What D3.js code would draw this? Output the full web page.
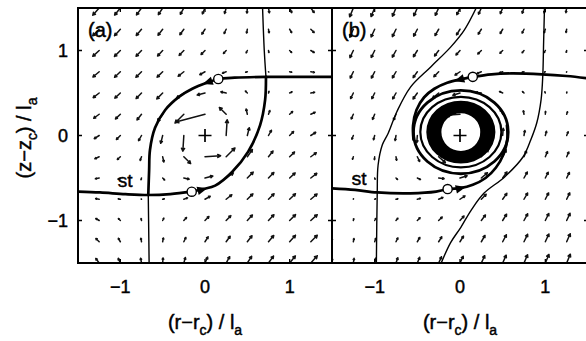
<!DOCTYPE html>
<html>
<head>
<meta charset="utf-8">
<script src="https://cdn.jsdelivr.net/npm/d3@7"></script>
<style>
  body { margin: 0; background: #fff; }
  svg { display: block; }
  text { font-family: "Liberation Sans", Arial, Helvetica, sans-serif; fill: #000; stroke: #000; stroke-width: 0.45px; }
</style>
</head>
<body>
<svg id="chart" width="586" height="341"></svg>
<script>
// ---- grid of the velocity field (tails of the quiver arrows) ----
const gridCols = [-1.5, -1.25, -1, -0.75, -0.5, -0.25, 0, 0.25, 0.5, 0.75, 1, 1.25, 1.5];
const gridRows = [1.5, 1.25, 1, 0.75, 0.5, 0.25, 0, -0.25, -0.5, -0.75, -1, -1.25, -1.5];

// panel (a): velocity components, one row per gridRows entry
const fieldA_u = [
  [-1.83,-1.64,-1.46,-1.28,-1.10,-0.90,-0.67,-0.40,-0.10,0.22,0.54,0.86,1.17],
  [-1.83,-1.65,-1.49,-1.34,-1.19,-1.02,-0.80,-0.52,-0.19,0.16,0.51,0.85,1.17],
  [-1.81,-1.64,-1.50,-1.39,-1.30,-1.19,-1.00,-0.69,-0.30,0.11,0.50,0.86,1.19],
  [-1.77,-1.60,-1.48,-1.42,-1.42,-1.45,-1.33,-0.95,-0.42,0.08,0.52,0.90,1.23],
  [-1.70,-1.53,-1.40,-1.37,-1.50,-1.85,-2.00,-1.35,-0.50,0.13,0.60,0.97,1.30],
  [-1.61,-1.40,-1.24,-1.15,-1.30,-2.25,-7.50,-1.75,-0.30,0.35,0.76,1.10,1.39],
  [-1.50,-1.25,-1.00,-0.75,-0.50,-0.25,0.00,0.25,0.50,0.75,1.00,1.25,1.50],
  [-1.39,-1.10,-0.76,-0.35,0.30,1.75,4.00,2.25,1.30,1.15,1.24,1.40,1.61],
  [-1.30,-0.97,-0.60,-0.13,0.50,1.35,2.00,1.85,1.50,1.37,1.40,1.53,1.70],
  [-1.23,-0.90,-0.52,-0.08,0.42,0.95,1.33,1.45,1.42,1.42,1.48,1.60,1.77],
  [-1.19,-0.86,-0.50,-0.11,0.30,0.69,1.00,1.19,1.30,1.39,1.50,1.64,1.81],
  [-1.17,-0.85,-0.51,-0.16,0.19,0.52,0.80,1.02,1.19,1.34,1.49,1.65,1.83],
  [-1.17,-0.86,-0.54,-0.22,0.10,0.40,0.67,0.90,1.10,1.28,1.46,1.64,1.83]
];
const fieldA_v = [
  [-1.83,-1.83,-1.81,-1.77,-1.70,-1.61,-1.50,-1.39,-1.30,-1.23,-1.19,-1.17,-1.17],
  [-1.64,-1.65,-1.64,-1.60,-1.53,-1.40,-1.25,-1.10,-0.97,-0.90,-0.86,-0.85,-0.86],
  [-1.46,-1.49,-1.50,-1.48,-1.40,-1.24,-1.00,-0.76,-0.60,-0.52,-0.50,-0.51,-0.54],
  [-1.28,-1.34,-1.39,-1.42,-1.37,-1.15,-0.75,-0.35,-0.13,-0.08,-0.11,-0.16,-0.22],
  [-1.10,-1.19,-1.30,-1.42,-1.50,-1.30,-0.50,0.30,0.50,0.42,0.30,0.19,0.10],
  [-0.90,-1.02,-1.19,-1.45,-1.85,-2.25,-2.00,1.75,1.35,0.95,0.69,0.52,0.40],
  [-0.67,-0.80,-1.00,-1.33,-2.00,-4.00,0.00,4.00,2.00,1.33,1.00,0.80,0.67],
  [-0.40,-0.52,-0.69,-0.95,-1.35,-1.75,0.25,2.25,1.85,1.45,1.19,1.02,0.90],
  [-0.10,-0.19,-0.30,-0.42,-0.50,-0.30,0.50,1.30,1.50,1.42,1.30,1.19,1.10],
  [0.22,0.16,0.11,0.08,0.13,0.35,0.75,1.15,1.37,1.42,1.39,1.34,1.28],
  [0.54,0.51,0.50,0.52,0.60,0.76,1.00,1.24,1.40,1.48,1.50,1.49,1.46],
  [0.86,0.85,0.86,0.90,0.97,1.10,1.25,1.40,1.53,1.60,1.64,1.65,1.64],
  [1.17,1.17,1.19,1.23,1.30,1.39,1.50,1.61,1.70,1.77,1.81,1.83,1.83]
];

// panel (b): velocity components
const fieldB_u = [
  [-1.10,-1.07,-1.06,-1.04,-1.03,-0.99,-0.93,-0.82,-0.69,-0.53,-0.37,-0.22,-0.07],
  [-1.05,-1.04,-1.04,-1.06,-1.07,-1.07,-1.01,-0.90,-0.73,-0.55,-0.36,-0.19,-0.03],
  [-0.99,-0.99,-1.01,-1.07,-1.14,-1.20,-1.17,-1.03,-0.80,-0.56,-0.33,-0.13,0.03],
  [-0.91,-0.90,-0.95,-1.05,-1.22,-1.41,-1.46,-1.24,-0.88,-0.54,-0.27,-0.05,0.11],
  [-0.80,-0.79,-0.83,-0.96,-1.26,-1.77,-2.09,-1.60,-0.92,-0.45,-0.14,0.06,0.23],
  [-0.66,-0.62,-0.62,-0.70,-1.01,-2.13,-4.04,-1.96,-0.67,-0.19,0.06,0.24,0.36],
  [-0.51,-0.43,-0.34,-0.26,-0.17,-0.09,0.00,0.09,0.17,0.26,0.34,0.43,0.51],
  [-0.36,-0.24,-0.06,0.19,0.67,1.96,4.04,2.13,1.01,0.70,0.62,0.62,0.66],
  [-0.23,-0.06,0.14,0.45,0.92,1.60,2.09,1.77,1.26,0.96,0.83,0.79,0.80],
  [-0.11,0.05,0.27,0.54,0.88,1.24,1.46,1.41,1.22,1.05,0.95,0.90,0.91],
  [-0.03,0.13,0.33,0.56,0.80,1.03,1.17,1.20,1.14,1.07,1.01,0.99,0.99],
  [0.03,0.19,0.36,0.55,0.73,0.90,1.01,1.07,1.07,1.06,1.04,1.04,1.05],
  [0.07,0.22,0.37,0.53,0.69,0.82,0.93,0.99,1.03,1.04,1.06,1.07,1.10]
];
const fieldB_v = [
  [-2.66,-2.60,-2.52,-2.42,-2.30,-2.15,-1.98,-1.81,-1.67,-1.54,-1.44,-1.36,-1.31],
  [-2.39,-2.34,-2.27,-2.17,-2.05,-1.86,-1.65,-1.44,-1.26,-1.13,-1.03,-0.96,-0.92],
  [-2.13,-2.10,-2.05,-1.97,-1.84,-1.62,-1.32,-1.02,-0.81,-0.67,-0.59,-0.54,-0.52],
  [-1.87,-1.87,-1.86,-1.83,-1.73,-1.45,-0.99,-0.53,-0.26,-0.15,-0.12,-0.11,-0.12],
  [-1.61,-1.64,-1.69,-1.75,-1.78,-1.52,-0.66,0.20,0.46,0.43,0.37,0.32,0.29],
  [-1.33,-1.39,-1.50,-1.70,-2.05,-2.39,-0.33,1.73,1.39,1.04,0.84,0.73,0.67],
  [-1.02,-1.09,-1.23,-1.50,-2.12,-4.06,0.00,4.06,2.12,1.50,1.23,1.09,1.02],
  [-0.67,-0.73,-0.84,-1.04,-1.39,-1.73,0.33,2.39,2.05,1.70,1.50,1.39,1.33],
  [-0.29,-0.32,-0.37,-0.43,-0.46,-0.20,0.66,1.52,1.78,1.75,1.69,1.64,1.61],
  [0.12,0.11,0.12,0.15,0.26,0.53,0.99,1.45,1.73,1.83,1.86,1.87,1.87],
  [0.52,0.54,0.59,0.67,0.81,1.02,1.32,1.62,1.84,1.97,2.05,2.10,2.13],
  [0.92,0.96,1.03,1.13,1.26,1.44,1.65,1.86,2.05,2.17,2.27,2.34,2.39],
  [1.31,1.36,1.44,1.54,1.67,1.81,1.98,2.15,2.30,2.42,2.52,2.60,2.66]
];

// ---- separatrices and trajectories, in units of l_a ----
const thickA = [
  [[0.157,0.665],[0.35,0.68],[0.72,0.69],[1.12,0.69],[1.5,0.69]],
  [[0.157,0.665],[0.02,0.62],[-0.15,0.55],[-0.30,0.46],[-0.47,0.30],[-0.59,0.09],[-0.65,-0.17],[-0.66,-0.41],[-0.67,-0.70]],
  [[-1.5,-0.66],[-1.24,-0.67],[-0.94,-0.69],[-0.67,-0.70],[-0.41,-0.69],[-0.157,-0.661]],
  [[-0.157,-0.661],[-0.02,-0.63],[0.12,-0.59],[0.32,-0.43],[0.51,-0.19],[0.65,0.12],[0.71,0.42],[0.72,0.69]]
];
const thinA = [
  [[0.72,0.69],[0.70,1.0],[0.68,1.5]],
  [[-0.67,-0.70],[-0.665,-1.1],[-0.66,-1.5]]
];
const thickB = [
  [[0.15,0.69],[0.37,0.72],[0.60,0.73],[0.96,0.72],[1.25,0.70],[1.52,0.67]],
  [[-1.52,-0.62],[-1.23,-0.64],[-0.97,-0.67],[-0.58,-0.68],[-0.28,-0.66],[-0.145,-0.63]],
  [[0.15,0.69],[0.0,0.66],[-0.15,0.62],[-0.30,0.55],[-0.42,0.45],[-0.51,0.30],[-0.55,0.12],[-0.545,-0.05]],
  [[-0.145,-0.63],[0.0,-0.62],[0.15,-0.58],[0.30,-0.50],[0.42,-0.38],[0.51,-0.22],[0.555,-0.04],[0.55,0.12]]
];
const thinB = [
  [[-0.98,-1.5],[-0.97,-0.68],[-0.96,-0.35],[-0.91,-0.11],[-0.84,0.03],[-0.74,0.28],[-0.58,0.57],[-0.34,0.81],[-0.11,1.04],[0.05,1.24],[0.19,1.5]],
  [[0.99,1.5],[0.98,1.1],[0.97,0.70],[0.95,0.42],[0.90,0.15],[0.83,-0.05],[0.74,-0.25],[0.52,-0.49],[0.28,-0.68],[0.13,-0.88],[0.01,-1.08],[-0.11,-1.26],[-0.22,-1.5]]
];
// closed loops of the spiral around the O-point in (b): centre and semi-axes
const loopCentreB = [0.01, 0.04];
const loopsB = [[0.555, 0.49], [0.475, 0.415]];
const denseRingB = { outer: [0.405, 0.37], inner: [0.228, 0.222] };

// start points (open circles) and direction marks
const startsA = [[0.157,0.665],[-0.157,-0.661]];
const startsB = [[0.15,0.69],[-0.145,-0.63]];
const headsA = [[[0.03,0.625],[-0.10,0.58]], [[-0.03,-0.635],[0.10,-0.60]]];
const headsB = [[[-0.01,0.655],[-0.13,0.62]], [[0.01,-0.62],[0.14,-0.59]]];
const opointA = [0, 0];
const opointB = [0, 0];
const saddleLabelA = [-1.03, -0.60];
const saddleLabelB = [-1.27, -0.58];

const tickValues = [-1, 0, 1];
const tickText = ["\u22121", "0", "1"];

// ---- drawing ----
const svg = d3.select("#chart");
const yS = d3.scaleLinear().domain([-1.5, 1.5]).range([263, 8]);
const xA = d3.scaleLinear().domain([-1.5, 1.5]).range([78, 332]);
const xB = d3.scaleLinear().domain([-1.5, 1.5]).range([332, 588]);

function drawPanel(id, xS, U, V, k, spec) {
  const [x0, x1] = xS.range();
  svg.append("clipPath").attr("id", id).append("rect")
    .attr("x", x0).attr("y", 8).attr("width", x1 - x0).attr("height", 255);
  const body = svg.append("g").attr("clip-path", `url(#${id})`);

  // quiver arrows
  let qp = "";
  gridRows.forEach((yv, i) => gridCols.forEach((xv, j) => {
    const u = U[i][j], v = V[i][j];
    if (u === 0 && v === 0) return;
    const ax = xS(xv), ay = yS(yv), bx = xS(xv + u * k), by = yS(yv + v * k);
    const a = Math.atan2(by - ay, bx - ax), len = Math.hypot(bx - ax, by - ay);
    const h = Math.min(3.2, len * 0.3);
    qp += `M${ax},${ay}L${bx},${by}`;
    qp += `M${bx - h * Math.cos(a - 0.5)},${by - h * Math.sin(a - 0.5)}L${bx},${by}L${bx - h * Math.cos(a + 0.5)},${by - h * Math.sin(a + 0.5)}`;
  }));
  body.append("path").attr("d", qp).attr("fill", "none").attr("stroke", "#111")
    .attr("stroke-width", 1.5).attr("stroke-linecap", "round").attr("stroke-linejoin", "round");

  const line = d3.line().x(d => xS(d[0])).y(d => yS(d[1])).curve(d3.curveCatmullRom.alpha(0.5));
  if (spec.band) {
    const cx = xS(spec.centre[0]), cy = yS(spec.centre[1]);
    const ell = (rx, ry) => `M${cx - rx},${cy}a${rx},${ry} 0 1,0 ${2 * rx},0a${rx},${ry} 0 1,0 ${-2 * rx},0Z`;
    const px = r => xS(r) - xS(0), py = r => yS(0) - yS(r);
    body.append("path")
      .attr("d", ell(px(spec.band.outer[0]), py(spec.band.outer[1])) + ell(px(spec.band.inner[0]), py(spec.band.inner[1])))
      .attr("fill", "#000").attr("fill-rule", "evenodd");
    spec.loops.forEach((l, i) => body.append("ellipse")
      .attr("cx", cx).attr("cy", cy).attr("rx", px(l[0])).attr("ry", py(l[1]))
      .attr("fill", "none").attr("stroke", "#000").attr("stroke-width", i === 0 ? 2.8 : 2.2));
  }
  spec.thin.forEach(c => body.append("path").attr("d", line(c)).attr("fill", "none")
    .attr("stroke", "#000").attr("stroke-width", 1.4));
  spec.thick.forEach(c => body.append("path").attr("d", line(c)).attr("fill", "none")
    .attr("stroke", "#000").attr("stroke-width", 2.7).attr("stroke-linecap", "round"));

  // direction triangles
  spec.heads.forEach(([p, t]) => {
    const px0 = xS(p[0]), py0 = yS(p[1]);
    const a = Math.atan2(yS(t[1]) - py0, xS(t[0]) - px0);
    const L = 10, Wd = 8.5, c = Math.cos(a), s = Math.sin(a);
    const tip = [px0 + c * L / 2, py0 + s * L / 2];
    const b1 = [px0 - c * L / 2 - s * Wd / 2, py0 - s * L / 2 + c * Wd / 2];
    const b2 = [px0 - c * L / 2 + s * Wd / 2, py0 - s * L / 2 - c * Wd / 2];
    body.append("path").attr("d", `M${tip}L${b1}L${b2}Z`).attr("fill", "#000");
  });
  spec.starts.forEach(p => body.append("circle").attr("cx", xS(p[0])).attr("cy", yS(p[1]))
    .attr("r", 4.6).attr("fill", "#fff").attr("stroke", "#000").attr("stroke-width", 1.4));

  // O-point
  const ox = xS(spec.opoint[0]), oy = yS(spec.opoint[1]);
  body.append("path").attr("d", `M${ox - 6.5},${oy}H${ox + 6.5}M${ox},${oy - 6.5}V${oy + 6.5}`)
    .attr("stroke", "#000").attr("stroke-width", 1.7);

  // saddle label
  body.append("text").attr("x", xS(spec.st[0])).attr("y", yS(spec.st[1]))
    .attr("font-size", 19).text("st");

  // panel letter
  svg.append("text").attr("x", x0 + 10).attr("y", 37).attr("font-size", 20).text(spec.letter);

  // frame and inward ticks
  const g = svg.append("g").attr("stroke", "#000").attr("fill", "none");
  g.append("rect").attr("x", x0).attr("y", 8).attr("width", x1 - x0).attr("height", 255).attr("stroke-width", 2);
  let tp = "";
  tickValues.forEach(t => {
    tp += `M${xS(t)},263V259M${xS(t)},8V12`;
    tp += `M${x0},${yS(t)}H${x0 + 4}M${x1},${yS(t)}H${x1 - 4}`;
  });
  g.append("path").attr("d", tp).attr("stroke-width", 1.3);

  // x tick labels and axis title
  tickValues.forEach((t, i) => svg.append("text").attr("x", xS(t)).attr("y", 293)
    .attr("text-anchor", "middle").attr("font-size", 18).text(tickText[i]));
  const title = svg.append("text").attr("x", (x0 + Math.min(x1, 586)) / 2 + (id === "clipB" ? 1 : 0))
    .attr("y", 329).attr("text-anchor", "middle").attr("font-size", 20);
  title.append("tspan").text("(r\u2212r");
  title.append("tspan").attr("font-size", 14).attr("dy", 6).text("c");
  title.append("tspan").attr("dy", -6).text(") / l");
  title.append("tspan").attr("font-size", 14).attr("dy", 6).text("a");
}

drawPanel("clipA", xA, fieldA_u, fieldA_v, 0.046, {
  thick: thickA, thin: thinA, heads: headsA, starts: startsA, opoint: opointA,
  st: saddleLabelA, letter: "(a)"
});
drawPanel("clipB", xB, fieldB_u, fieldB_v, 0.040, {
  thick: thickB, thin: thinB, heads: headsB, starts: startsB, opoint: opointB,
  st: saddleLabelB, letter: "(b)", band: denseRingB, loops: loopsB, centre: loopCentreB
});

// y tick labels and title on the left
tickValues.forEach((t, i) => svg.append("text").attr("x", 68).attr("y", yS(t) + 6.5)
  .attr("text-anchor", "end").attr("font-size", 18).text(tickText[i]));
const yTitle = svg.append("text").attr("transform", "translate(31,138) rotate(-90)")
  .attr("text-anchor", "middle").attr("font-size", 20);
yTitle.append("tspan").text("(z\u2212z");
yTitle.append("tspan").attr("font-size", 14).attr("dy", 6).text("c");
yTitle.append("tspan").attr("dy", -6).text(") / l");
yTitle.append("tspan").attr("font-size", 14).attr("dy", 6).text("a");
</script>
</body>
</html>
